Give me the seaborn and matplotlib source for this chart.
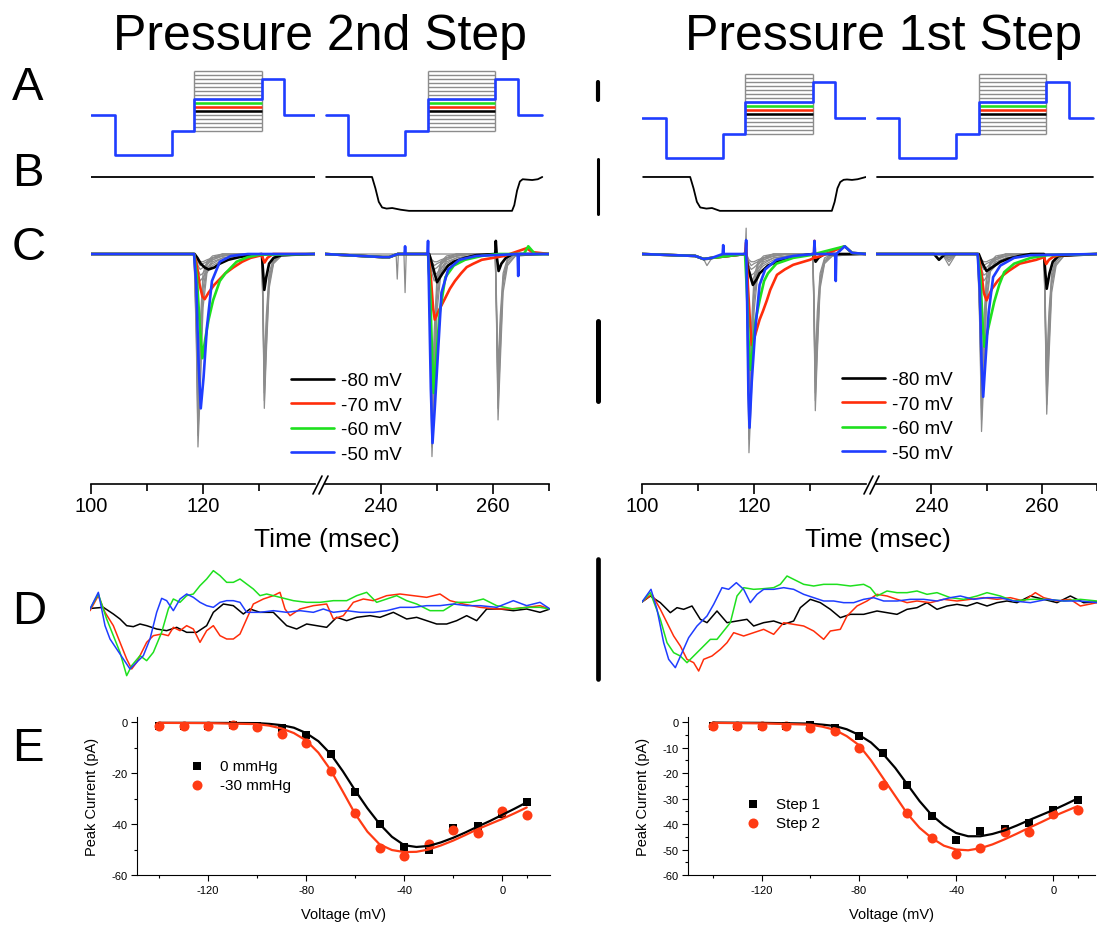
import numpy as np
import pandas as pd
import matplotlib
matplotlib.use("Agg")
import matplotlib.pyplot as plt
import seaborn as sns
from matplotlib.lines import Line2D

sns.set_style("ticks")
plt.rcParams["font.family"] = ["Liberation Sans", "DejaVu Sans"]
plt.rcParams["axes.unicode_minus"] = False
for key in ["text.color", "axes.labelcolor", "axes.edgecolor", "xtick.color", "ytick.color"]:
    plt.rcParams[key] = "black"

W, H = 1097, 928

BLACK = "#000000"
RED = "#ff2d0a"
GREEN = "#1ee01e"
BLUE = "#1f3dff"
GREY = "#8c8c8c"
RED_E = "#ff3b14"

# ---------------- A: voltage protocol (mV) ----------------
prot1_t = [100.0, 104.3, 114.5, 118.4, 130.5, 134.5, 140.0]
prot2_t = [230.2, 234.1, 244.3, 248.4, 260.4, 264.5, 268.8]
prot_v = [-90, -190, -130, -50, 0, -90, -90]
test_levels = [-130, -120, -110, -100, -90, -80, -70, -60, -50, -40, -30, -20, -10, 0, 10, 20]

# ---------------- B: pressure (mmHg) ----------------
flat1_t = [100.0, 140.0]
flat2_t = [230.2, 268.8]
flat_p = [0, 0]
press_left2_t = [230.2, 238.4, 239.0, 239.6, 240.2, 241.0, 242.0, 243.5, 245.0, 255.0, 263.4,
                 263.8, 264.3, 264.8, 265.3, 266.0, 267.0, 268.0, 268.8]
press_left2_p = [0, 0, -10, -22, -27, -28, -27.5, -29, -30, -30, -30, -25, -12, -4, -2, -2.3, -2.7, -2, 0]
press_right1_t = [100.2, 108.6, 109.2, 109.8, 110.4, 111.5, 112.5, 113.9, 125.0, 133.9, 134.4,
                  134.9, 135.4, 136.0, 136.6, 137.5, 138.5, 140.0]
press_right1_p = [0, 0, -10, -22, -27, -28, -27.5, -30, -30, -30, -22, -10, -4.5, -2.5, -2.2, -2.6, -2.0, 0]

# ---------------- C: currents (pA) ----------------
# left panel, first step window
lf_grey_t = [100, 111.0, 114.5, 118.4, 118.8, 119.1, 119.5, 120.0, 120.7, 121.7, 123.5, 126.0,
             130.5, 130.7, 130.95, 131.3, 131.8, 132.6, 134.0, 140]
lf_grey = [
    [0, 0, 0, 0, -22, -50, -36, -14, -5, -2, -1, -0.5, 0, 0, 0, 0, 0, 0, 0, 0],
    [0, 0, 0, 0, -20, -47, -32, -11, -4, -1.5, -0.5, 0, 0, 0, 0, 0, 0, 0, 0, 0],
    [0, 0, 0, 0, -18, -43, -27, -9, -3, -1, -0.5, 0, 0, 0, 0, 0, 0, 0, 0, 0],
    [0, 0, 0, 0, -16, -39, -23, -7, -2.5, -1, 0, 0, 0, 0, 0, 0, 0, 0, 0, 0],
    [0, 0, 0, 0, -13, -33, -18, -5, -2, -0.5, 0, 0, 0, 0, 0, 0, 0, 0, 0, 0],
    [0, 0, 0, 0, -2, -5, -7, -6, -4.5, -3, -1.5, -0.5, 0, -15, -40, -26, -9, -2.5, -0.5, 0],
    [0, 0, 0, 0, -1.5, -4, -5.5, -5, -3.5, -2.5, -1, -0.5, 0, -14, -38, -24, -8, -2, -0.5, 0],
    [0, 0, 0, 0, -1, -3, -4, -3.5, -2.5, -1.5, -0.5, 0, 0, -13, -36, -21, -7, -2, 0, 0],
    [0, 0, 0, 0, -1, -2, -3, -2.5, -2, -1, -0.5, 0, 0, -12, -34, -19, -6, -1.5, 0, 0],
    [0, 0, 0, 0, -0.5, -1.5, -2, -2, -1.5, -1, 0, 0, 0, -10, -30, -16, -5, -1, 0, 0],
]
lf_black_t = [100, 118.5, 119.0, 119.6, 120.3, 121.0, 122.0, 123.0, 124.5, 126.5, 128.5, 130.5, 130.7,
              130.95, 131.3, 131.8, 132.6, 134, 140]
lf_black_v = [0, 0, -1, -2.5, -3.5, -4, -3.5, -2.5, -1.5, -0.8, -0.3, 0, -4, -9.3, -6, -2.5, -1, -0.3, 0]
lf_red_t = [100, 118.4, 118.9, 119.4, 119.9, 120.3, 121.0, 122.0, 123.0, 124.0, 125.4, 127.0, 128.5,
            130.5, 130.8, 131.0, 131.5, 132.5, 140]
lf_red_v = [0, 0, -3, -8, -11, -11.7, -10, -8, -6.5, -5, -3.5, -2, -1, -0.3, -1.5, -2.2, -1, 0, 0]
lf_green_t = [100, 118.4, 118.9, 119.4, 119.9, 120.4, 121.0, 121.8, 123.0, 124.0, 126.0, 128.0, 130.0, 140]
lf_green_v = [0, 0, -6, -18, -27, -22, -17, -12, -7, -5, -2, -0.8, -0.2, 0]
lf_blue_t = [100, 118.4, 118.8, 119.2, 119.6, 120.1, 120.7, 121.6, 123.0, 125.0, 128.0, 140]
lf_blue_v = [0, 0, -8, -28, -40, -32, -19, -7, -2, -0.5, 0, 0]

# left panel, second step window
ls_grey_t = [230, 240.3, 241.5, 243.0, 248.4, 248.8, 249.1, 249.5, 250.0, 250.7, 251.7, 253.5, 256.0,
             260.4, 260.6, 260.9, 261.3, 261.8, 262.6, 264.0, 270]
ls_grey = [
    [0, -0.8, -0.8, 0, 0, -25, -52.5, -38, -15, -5, -2, -1, -0.5, 0, 0, 0, 0, 0, 0, 0, 0],
    [0, -0.8, -0.8, 0, 0, -23, -50, -34, -12, -4, -1.5, -0.5, 0, 0, 0, 0, 0, 0, 0, 0, 0],
    [0, -0.8, -0.8, 0, 0, -20, -46, -29, -10, -3, -1, -0.5, 0, 0, 0, 0, 0, 0, 0, 0, 0],
    [0, -0.8, -0.8, 0, 0, -18, -42, -25, -8, -2.5, -1, 0, 0, 0, 0, 0, 0, 0, 0, 0, 0],
    [0, -0.8, -0.8, 0, 0, -15, -37, -20, -6, -2, -0.5, 0, 0, 0, 0, 0, 0, 0, 0, 0, 0],
    [0, -0.8, -0.8, 0, 0, -2, -5, -7, -6, -4.5, -3, -1.5, -0.5, 0, -15, -43, -28, -10, -3, -0.5, 0],
    [0, -0.8, -0.8, 0, 0, -1.5, -4, -5.5, -5, -3.5, -2.5, -1, -0.5, 0, -14, -40, -25, -8, -2.5, -0.5, 0],
    [0, -0.8, -0.8, 0, 0, -1, -3, -4, -3.5, -2.5, -1.5, -0.5, 0, 0, -13, -37, -22, -7, -2, 0, 0],
    [0, -0.8, -0.8, 0, 0, -1, -2, -3, -2.5, -2, -1, -0.5, 0, 0, -12, -34, -19, -6, -1.5, 0, 0],
    [0, -0.8, -0.8, 0, 0, -0.5, -1.5, -2, -2, -1.5, -1, 0, 0, 0, -10, -30, -16, -5, -1, 0, 0],
]
ls_artifact_t = [230, 242.7, 242.9, 243.1, 244.1, 244.3, 244.5, 270]
ls_artifact_v = [0, 0, -6.5, 0, 0, -10, 0, 0]
ls_black_t = [230, 240.3, 241.5, 243.0, 248.6, 249.2, 250.0, 251.0, 252.0, 253.0, 255.0, 257.0, 260.4,
              260.5, 260.7, 261.0, 261.5, 262.3, 263.5, 270]
ls_black_v = [0, -0.8, -0.8, 0, 0, -3, -7.3, -5, -3, -2, -1, -0.3, 0, 3.4, -1, -4.4, -2.5, -1, 0, 0]
ls_red_t = [230, 240.3, 241.5, 243.0, 248.4, 248.9, 249.3, 249.6, 250.2, 251.4, 252.3, 253.2, 254.3,
            255.3, 256.5, 258.0, 260.0, 262.0, 266.0, 267.0, 270]
ls_red_v = [0, -0.8, -0.8, 0, 0, -6, -14, -17, -15, -11.6, -9, -7, -5, -3.4, -2.5, -1.5, -1, -0.5, 1.5, 0.5, 0]
ls_green_t = [230, 240.3, 241.5, 243.0, 248.4, 248.8, 249.1, 249.4, 249.8, 250.5, 251.5, 253.0, 255.0,
              258.0, 261.0, 265.5, 266.3, 267.5, 270]
ls_green_v = [0, -0.8, -0.8, 0, 0, -10, -25, -36, -28, -15, -6, -3, -1.5, -0.5, 0, 0, 2.0, 0, 0]
ls_blue_t = [230, 240.3, 241.5, 243.0, 244.2, 244.3, 244.4, 248.3, 248.4, 248.6, 248.9, 249.2, 249.6,
             250.0, 250.8, 252.0, 254.0, 257.0, 264.4, 264.5, 264.6, 270]
ls_blue_v = [0, -0.8, -0.8, 0, 0, 2, 0, 0, 3.4, -12, -35, -49, -40, -30, -10, -4, -1.5, -0.5, 0, -5.7, 0, 0]

# right panel, first step window
rf_grey_t = [100, 109.5, 111.0, 111.6, 112.5, 118.4, 118.6, 118.8, 119.1, 119.5, 120.0, 120.7, 121.7,
             123.5, 126.0, 130.5, 130.7, 130.95, 131.3, 131.8, 132.6, 134.0, 140]
rf_grey = [
    [0, -0.5, -1.3, -3, -1, 0, 6.7, -20, -51.5, -38, -15, -5, -2, -1, -0.5, 0, 0, 0, 0, 0, 0, 0, 0],
    [0, -0.5, -1.3, -1.5, -1, 0, 4, -18, -48, -34, -12, -4, -1.5, -0.5, 0, 0, 0, 0, 0, 0, 0, 0, 0],
    [0, -0.5, -1.3, -1.3, -1, 0, 3, -16, -44, -29, -10, -3, -1, -0.5, 0, 0, 0, 0, 0, 0, 0, 0, 0],
    [0, -0.5, -1.3, -1.3, -1, 0, 2, -14, -40, -25, -8, -2.5, -1, 0, 0, 0, 0, 0, 0, 0, 0, 0, 0],
    [0, -0.5, -1.3, -1.3, -1, 0, 1, -12, -35, -20, -6, -2, -0.5, 0, 0, 0, 0, 0, 0, 0, 0, 0, 0],
    [0, -0.5, -1.3, -1.3, -1, 0, 0, -2, -5, -7, -6, -4.5, -3, -1.5, -0.5, 0, -15, -40.6, -26, -9, -2.5, -0.5, 0],
    [0, -0.5, -1.3, -1.3, -1, 0, 0, -1.5, -4, -5.5, -5, -3.5, -2.5, -1, -0.5, 0, -14, -38, -24, -8, -2, -0.5, 0],
    [0, -0.5, -1.3, -1.3, -1, 0, 0, -1, -3, -4, -3.5, -2.5, -1.5, -0.5, 0, 0, -13, -36, -21, -7, -2, 0, 0],
    [0, -0.5, -1.3, -1.3, -1, 0, 0, -1, -2, -3, -2.5, -2, -1, -0.5, 0, 0, -12, -33, -18, -6, -1.5, 0, 0],
    [0, -0.5, -1.3, -1.3, -1, 0, 0, -0.5, -1.5, -2, -2, -1.5, -1, 0, 0, 0, -10, -29, -15, -5, -1, 0, 0],
]
rf_black_t = [100, 109.5, 111.0, 112.5, 118.5, 119.0, 119.8, 120.5, 121.0, 122.5, 125.0, 128.0, 130.5,
              130.8, 131.0, 131.5, 132.5, 140]
rf_black_v = [0, -0.5, -1.3, -1, 0, -4, -8, -6.5, -5, -3, -1.5, -0.5, 0, -1, -2, -1, 0, 0]
rf_red_t = [100, 109.5, 111.0, 112.5, 118.4, 118.6, 118.9, 119.3, 119.6, 120.2, 121.0, 121.6, 122.3,
            122.9, 124.1, 125.5, 127.0, 130.0, 130.7, 130.8, 130.9, 132.0, 136.2, 137.5, 140]
rf_red_v = [0, -0.5, -1.3, -1, 0, 3, -8, -18, -23.6, -21, -17, -14.8, -12, -9.3, -5.4, -4, -2.8, -1.5,
            -1, 3.4, -1, -0.5, 2, 0.3, 0]
rf_green_t = [100, 109.5, 111.0, 112.5, 118.4, 118.8, 119.1, 119.4, 119.8, 120.3, 121.0, 121.8, 122.5,
              124.0, 127.0, 130.0, 136.2, 137.5, 140]
rf_green_v = [0, -0.5, -1.3, -1, 0, -12, -25, -30, -24, -17, -12, -7, -5, -2.5, -1, -0.3, 2, 0.3, 0]
rf_blue_t = [100, 109.5, 111.0, 112.5, 114.4, 114.5, 114.6, 118.5, 118.6, 118.8, 119.0, 119.2, 119.6,
             120.2, 121.0, 122.0, 124.0, 127.0, 130.7, 130.8, 130.9, 134.5, 134.6, 134.7, 136.2, 137.5, 140]
rf_blue_v = [0, -0.5, -1.3, -1, 0, 2.3, 0, 0, 3.6, -15, -36, -45, -33, -20, -8, -4, -1.5, -0.5, 0, 3.4,
             0, 0, -7, 0, 2, 0.3, 0]

# right panel, second step window
rs_grey_t = [230, 242.0, 243.2, 244.5, 248.4, 248.8, 249.1, 249.5, 250.0, 250.7, 251.7, 253.5, 256.0,
             260.4, 260.6, 260.9, 261.3, 261.8, 262.6, 264.0, 270]
rs_grey = [
    [0, 0, -3, 0, 0, -20, -46, -33, -13, -4.5, -2, -1, -0.5, 0, 0, 0, 0, 0, 0, 0, 0],
    [0, 0, -2, 0, 0, -18, -43, -30, -11, -4, -1.5, -0.5, 0, 0, 0, 0, 0, 0, 0, 0, 0],
    [0, 0, -1.5, 0, 0, -16, -40, -26, -9, -3, -1, -0.5, 0, 0, 0, 0, 0, 0, 0, 0, 0],
    [0, 0, -1, 0, 0, -14, -36, -22, -7, -2.5, -1, 0, 0, 0, 0, 0, 0, 0, 0, 0, 0],
    [0, 0, -0.5, 0, 0, -12, -31, -18, -5.5, -2, -0.5, 0, 0, 0, 0, 0, 0, 0, 0, 0, 0],
    [0, 0, -1, 0, 0, -2, -5, -7, -6, -4.5, -3, -1.5, -0.5, 0, -15, -41.5, -27, -10, -3, -0.5, 0],
    [0, 0, -1, 0, 0, -1.5, -4, -5.5, -5, -3.5, -2.5, -1, -0.5, 0, -14, -39, -24, -8, -2.5, -0.5, 0],
    [0, 0, -0.5, 0, 0, -1, -3, -4, -3.5, -2.5, -1.5, -0.5, 0, 0, -13, -36, -21, -7, -2, 0, 0],
    [0, 0, -0.5, 0, 0, -1, -2, -3, -2.5, -2, -1, -0.5, 0, 0, -12, -33, -18, -6, -1.5, 0, 0],
    [0, 0, 0, 0, 0, -0.5, -1.5, -2, -2, -1.5, -1, 0, 0, 0, -10, -29, -15, -5, -1, 0, 0],
]
rs_black_t = [230, 240.5, 241.4, 242.5, 248.6, 249.3, 250.0, 251.0, 252.5, 254.0, 256.0, 258.0, 260.4,
              260.6, 260.9, 261.4, 262.0, 263.0, 270]
rs_black_v = [0, 0, -1.5, 0, 0, -2.5, -4.4, -3.5, -2, -1.2, -0.5, 0, 0, -4, -9, -5, -2, -0.5, 0]
rs_red_t = [230, 248.4, 249.0, 249.5, 250.0, 251.0, 252.0, 253.0, 254.0, 256.0, 259.0, 260.4, 260.8,
            261.3, 262.0, 263.0, 270]
rs_red_v = [0, 0, -4, -10, -12, -9, -7, -5.5, -4.4, -2.5, -1.5, -0.8, -2.6, -1.5, -0.8, -0.3, 0]
rs_green_t = [230, 248.4, 248.9, 249.3, 249.6, 250.2, 251.4, 252.3, 253.2, 255.0, 258.0, 261.0, 270]
rs_green_v = [0, 0, -6, -18, -24, -20, -12.4, -8, -4.7, -2.5, -1, -0.3, 0]
rs_blue_t = [230, 248.4, 248.8, 249.1, 249.4, 249.8, 250.4, 251.2, 252.5, 255.0, 258.0, 270]
rs_blue_v = [0, 0, -10, -28, -37, -28, -15, -6, -3, -1, -0.3, 0]

trace_labels = ["-80 mV", "-70 mV", "-60 mV", "-50 mV"]

# ---------------- D: normalised difference traces (a.u.) ----------------
dl_black_x = [35, 70, 100, 120, 140, 160, 180, 200, 230, 260, 290, 320, 350, 380, 400, 430, 460, 490, 510,
              540, 580, 620, 650, 680, 710, 740, 770, 800, 830, 870, 900, 940, 980, 1010, 1040, 1070, 1100,
              1130, 1160, 1190, 1220, 1260, 1300, 1340, 1380, 1410]
dl_black_v = [2, 5, -15, -30, -50, -53, -45, -50, -60, -65, -55, -70, -70, -50, -10, 15, 10, -15, 0, -10,
              -10, -50, -60, -45, -50, -55, -25, -35, -25, -20, -25, -10, -30, -25, -35, -45, -45, -35,
              -20, -35, 0, 0, -5, 0, -10, 0]
dl_red_x = [30, 55, 75, 100, 120, 140, 155, 170, 185, 200, 220, 245, 265, 280, 300, 320, 340, 360, 380,
            400, 420, 440, 460, 480, 500, 520, 550, 580, 600, 615, 630, 660, 700, 740, 760, 790, 820, 850,
            880, 920, 960, 1000, 1040, 1080, 1110, 1150, 1200, 1250, 1290, 1340, 1380, 1410]
dl_red_v = [-5, 40, -10, -50, -100, -150, -180, -160, -130, -100, -80, -75, -80, -55, -65, -50, -60, -100,
            -65, -50, -80, -90, -90, -75, -30, 15, 30, 40, 50, 0, -20, 0, 10, 15, -30, -20, 20, 30, 25,
            40, 45, 40, 35, 45, 25, 15, 5, 0, 0, 5, 10, 0]
dl_green_x = [30, 55, 80, 100, 120, 140, 155, 180, 200, 220, 245, 265, 280, 300, 320, 340, 360, 380, 400,
              420, 440, 460, 480, 500, 520, 540, 560, 600, 640, 680, 720, 760, 800, 830, 860, 890, 920,
              950, 980, 1010, 1050, 1090, 1130, 1170, 1210, 1250, 1300, 1340, 1380, 1410]
dl_green_v = [0, 45, -30, -80, -130, -200, -170, -140, -155, -130, -70, 0, 30, 20, 40, 45, 70, 90, 115,
              100, 80, 80, 90, 75, 60, 40, 45, 35, 25, 20, 20, 25, 25, 40, 50, 20, 30, 40, 25, 15, -5, -5,
              20, 20, 30, 10, 0, 5, 5, 0]
dl_blue_x = [30, 55, 75, 90, 110, 130, 150, 170, 190, 210, 230, 245, 260, 280, 300, 320, 340, 360, 380,
             400, 420, 440, 460, 480, 500, 540, 580, 620, 660, 700, 730, 760, 800, 840, 880, 920, 960,
             1000, 1040, 1080, 1120, 1160, 1200, 1250, 1300, 1340, 1380, 1410]
dl_blue_v = [0, 50, -50, -90, -120, -150, -180, -160, -140, -90, -10, 32, 25, -5, 30, 45, 35, 20, 10, 5,
             20, 25, 25, 20, -10, -10, -5, -10, -5, -10, 0, -10, -5, -10, -10, -5, 5, 5, 10, 10, 15, 10,
             10, 5, 25, 10, 20, 0]

dr_black_x = [35, 60, 90, 120, 140, 160, 185, 210, 230, 260, 290, 320, 350, 370, 400, 430, 460, 490, 510,
              540, 570, 600, 630, 660, 700, 740, 770, 800, 830, 860, 890, 920, 950, 980, 1010, 1040, 1070,
              1100, 1130, 1160, 1200, 1240, 1280, 1320, 1360, 1400]
dr_black_v = [0, 18, -2, -32, -17, -22, -12, -52, -62, -27, -62, -57, -52, -72, -62, -57, -67, -57, -17,
              8, -2, -22, -47, -37, -37, -27, -32, -37, -22, -17, -2, -22, -12, -7, -12, -2, -12, -2, 3,
              -2, 18, 8, -2, 18, -2, 0]
dr_red_x = [35, 65, 90, 110, 130, 150, 170, 190, 205, 220, 245, 270, 290, 310, 340, 370, 400, 430, 460,
            490, 520, 550, 580, 600, 630, 650, 680, 710, 740, 770, 800, 830, 860, 900, 940, 980, 1020,
            1060, 1100, 1140, 1180, 1215, 1240, 1280, 1320, 1350, 1400]
dr_red_v = [0, 23, -22, -62, -102, -132, -172, -182, -207, -172, -162, -142, -122, -92, -102, -92, -82,
            -97, -62, -67, -72, -87, -112, -87, -82, -42, -12, 3, 23, 18, 8, -2, 3, -2, 8, 3, 8, 13, 8,
            13, 3, 28, 13, 3, 8, -12, -2]
dr_green_x = [35, 60, 90, 110, 130, 150, 170, 190, 210, 240, 260, 280, 300, 320, 340, 370, 400, 430, 450,
              470, 490, 520, 550, 580, 620, 660, 700, 720, 740, 770, 800, 830, 860, 890, 920, 960, 1000,
              1040, 1070, 1110, 1150, 1200, 1250, 1300, 1350, 1400]
dr_green_v = [0, 28, -52, -122, -152, -162, -182, -162, -142, -112, -112, -87, -62, 18, 43, 38, 40, 43,
              53, 78, 68, 53, 48, 53, 53, 48, 53, 43, 18, 33, 28, 28, 33, 23, 28, 13, 8, 18, 28, 18, 3, 8,
              8, 3, 8, 3]
dr_blue_x = [35, 62, 80, 100, 115, 135, 155, 175, 200, 230, 250, 275, 295, 318, 340, 360, 380, 400, 430,
             460, 490, 520, 550, 580, 610, 640, 670, 700, 730, 760, 800, 840, 880, 920, 960, 990, 1030,
             1070, 1110, 1150, 1200, 1250, 1300, 1350, 1400]
dr_blue_v = [0, 38, -22, -122, -172, -197, -152, -107, -72, -42, -7, 43, 38, 58, 38, -2, 23, 38, 38, 43,
             38, 23, 13, 3, 3, -2, -2, 8, 13, 3, 3, 8, 8, 3, 13, 18, 8, 13, 13, 3, -2, 8, 3, 3, -2]

# ---------------- E: I-V relations ----------------
volts = [-140, -130, -120, -110, -100, -90, -80, -70, -60, -50, -40, -30, -20, -10, 0, 10]
peak_0mmhg = [-1.6, -1.7, -1.6, -1.3, -1.6, -2.2, -4.9, -12.5, -27.6, -40.0, -49.2, -50.2, -41.4, -40.7, -36.1, -31.5]
peak_30mmhg = [-1.7, -1.7, -1.6, -1.3, -2.0, -4.6, -8.3, -19.0, -35.7, -49.5, -52.5, -47.9, -42.4, -43.6, -34.8, -36.4]
peak_step1 = [-1.7, -1.7, -1.7, -1.6, -1.3, -2.2, -5.3, -12.2, -24.7, -36.8, -46.4, -42.7, -42.0, -39.4, -34.5, -30.6]
peak_step2 = [-1.7, -1.7, -1.7, -1.7, -2.2, -3.5, -10.2, -24.6, -35.7, -45.6, -51.6, -49.5, -43.1, -43.3, -36.1, -34.4]

fit_v = [-140, -120, -100, -95, -90, -85, -80, -75, -70, -65, -60, -55, -50, -45, -40, -35, -30, -25,
         -20, -15, -10, -5, 0, 5, 10]
fit_0mmhg = [-0.3, -0.3, -0.4, -0.7, -1.2, -2.2, -4.3, -7.5, -12.5, -19.3, -26.8, -33.8, -40.0, -45.0,
             -48.3, -49.0, -48.6, -47.2, -45.4, -43.3, -41.0, -38.8, -36.4, -34.0, -31.5]
fit_30mmhg = [-0.3, -0.4, -0.8, -1.4, -2.5, -4.3, -7.2, -12.0, -18.8, -27.3, -36.0, -43.0, -48.0, -50.2,
              -51.0, -50.9, -50.0, -48.4, -46.5, -44.3, -42.0, -40.0, -38.0, -35.8, -33.5]
fit_step1 = [-0.2, -0.3, -0.6, -1.0, -1.5, -2.8, -5.0, -8.0, -12.5, -18.0, -24.5, -31.0, -36.5, -40.5,
             -43.5, -44.8, -44.8, -43.9, -42.5, -40.6, -38.5, -36.5, -34.5, -32.3, -30.0]
fit_step2 = [-0.3, -0.5, -1.0, -1.8, -3.0, -5.5, -9.0, -15.0, -22.0, -29.0, -36.0, -41.5, -45.5, -48.5,
             -50.0, -50.3, -49.5, -48.0, -46.0, -43.8, -41.5, -39.3, -37.0, -35.0, -33.0]

# ============================================================
fig = plt.figure(figsize=(W / 100, H / 100), dpi=100)
fig.patch.set_facecolor("white")


def add_ax(x0, y0, x1, y1):
    # axes placed by pixel box (left, top, right, bottom)
    ax = fig.add_axes([x0 / W, 1 - y1 / H, (x1 - x0) / W, (y1 - y0) / H])
    ax.patch.set_alpha(0)
    return ax


def trace(ax, x, y, color, lw):
    sns.lineplot(x=x, y=y, color=color, lw=lw, ax=ax, sort=False, estimator=None, legend=False)


def draw_protocol(ax, t, xlim):
    t0, t1 = t[3], t[4]
    ax.hlines(test_levels, t0, t1, color=GREY, lw=1.0)
    ax.vlines([t0, t1], min(test_levels), max(test_levels), color=GREY, lw=1.0)
    for lvl, col in zip([-80, -70, -60], [BLACK, RED, GREEN]):
        ax.hlines(lvl, t0, t1, color=col, lw=1.8)
    ax.step(t, prot_v, where="post", color=BLUE, lw=1.9)
    ax.set_xlim(xlim)
    ax.set_ylim(-212.5, 37.5)
    ax.axis("off")


def draw_pressure(ax, t, p, xlim):
    trace(ax, t, p, BLACK, 1.3)
    ax.set_xlim(xlim)
    ax.set_ylim(-39, 11.5)
    ax.axis("off")


def draw_current(ax, grey_t, grey_rows, colored, xlim, major, minor, extra=None):
    for row in grey_rows:
        trace(ax, grey_t, row, GREY, 0.9)
    if extra is not None:
        trace(ax, extra[0], extra[1], GREY, 0.9)
    for (t, v), col in zip(colored, [BLACK, RED, GREEN, BLUE]):
        trace(ax, t, v, col, 1.9)
    ax.set_xlim(xlim)
    ax.set_ylim(-59.6, 7.0)
    for s in ["top", "left", "right"]:
        ax.spines[s].set_visible(False)
    ax.spines["bottom"].set_linewidth(1.2)
    ax.set_yticks([])
    ax.set_xticks(major)
    ax.set_xticks(minor, minor=True)
    ax.tick_params(axis="x", which="major", length=7, width=1.2, labelsize=14.5, pad=2, direction="out")
    ax.tick_params(axis="x", which="minor", length=5, width=1.2, direction="out")
    ax.set_xlabel("")
    ax.set_ylabel("")


def draw_diff(ax, series, xlim, ylim):
    for (x, v), col in zip(series, [BLACK, RED, GREEN, BLUE]):
        trace(ax, x, v, col, 1.1)
    ax.set_xlim(xlim)
    ax.set_ylim(ylim)
    ax.axis("off")


def draw_iv(ax, fits, peaks, labels, xlim, yminor, ymajor, leg_xy):
    for f, col in zip(fits, [BLACK, RED_E]):
        trace(ax, fit_v, f, col, 1.6)
    sns.scatterplot(x=volts, y=peaks[0], marker="s", s=38, color=BLACK, linewidth=0, ax=ax, label=labels[0])
    sns.scatterplot(x=volts, y=peaks[1], marker="o", s=52, color=RED_E, linewidth=0, ax=ax, label=labels[1])
    ax.set_xlim(xlim)
    ax.set_ylim(-60, 2)
    ax.set_xticks([-120, -80, -40, 0])
    ax.set_xticks([-140, -100, -60, -20, 10], minor=True)
    ax.set_yticks(ymajor)
    ax.set_yticks(yminor, minor=True)
    sns.despine(ax=ax)
    for s in ["left", "bottom"]:
        ax.spines[s].set_linewidth(0.8)
    ax.tick_params(which="major", length=4, width=0.8, labelsize=8, pad=3)
    ax.tick_params(which="minor", length=2.5, width=0.8)
    ax.set_xlabel("Voltage (mV)", fontsize=10.5, labelpad=9)
    ax.set_ylabel("Peak Current (pA)", fontsize=10.5, labelpad=9)
    ax.legend(loc="upper left", bbox_to_anchor=(leg_xy[0] / W, 1 - leg_xy[1] / H),
              bbox_transform=fig.transFigure, frameon=False, fontsize=11, borderpad=0,
              borderaxespad=0, handlelength=1.2, handletextpad=0.9, labelspacing=0.3)


# --------- the two halves ---------
for side, dx, dy in [("left", 0, 0), ("right", 551, 3)]:
    s1, s2 = 91 + dx, 325 + dx
    e1, e2 = s1 + 224, min(s2 + 224, W)
    xl2 = (230, 230 + (e2 - s2) / 5.6)

    draw_protocol(add_ax(s1, 65 + dy, e1, 165 + dy), prot1_t, (100, 140))
    draw_protocol(add_ax(s2, 65 + dy, e2, 165 + dy), prot2_t, xl2)

    if side == "left":
        draw_pressure(add_ax(s1, 165, e1, 222), flat1_t, flat_p, (100, 140))
        draw_pressure(add_ax(s2, 165, e2, 222), press_left2_t, press_left2_p, xl2)
        cf = [(lf_black_t, lf_black_v), (lf_red_t, lf_red_v), (lf_green_t, lf_green_v), (lf_blue_t, lf_blue_v)]
        cs = [(ls_black_t, ls_black_v), (ls_red_t, ls_red_v), (ls_green_t, ls_green_v), (ls_blue_t, ls_blue_v)]
        draw_current(add_ax(s1, 228, e1, 485), lf_grey_t, lf_grey, cf, (100, 140), [100, 120], [110, 130])
        draw_current(add_ax(s2, 228, e2, 485), ls_grey_t, ls_grey, cs, xl2, [240, 260], [250, 270],
                     extra=(ls_artifact_t, ls_artifact_v))
    else:
        draw_pressure(add_ax(s1, 165, e1, 222), press_right1_t, press_right1_p, (100, 140))
        draw_pressure(add_ax(s2, 165, e2, 222), flat2_t, flat_p, xl2)
        cf = [(rf_black_t, rf_black_v), (rf_red_t, rf_red_v), (rf_green_t, rf_green_v), (rf_blue_t, rf_blue_v)]
        cs = [(rs_black_t, rs_black_v), (rs_red_t, rs_red_v), (rs_green_t, rs_green_v), (rs_blue_t, rs_blue_v)]
        draw_current(add_ax(s1, 228, e1, 485), rf_grey_t, rf_grey, cf, (100, 140), [100, 120], [110, 130])
        draw_current(add_ax(s2, 228, e2, 485), rs_grey_t, rs_grey, cs, xl2, [240, 260], [250, 270])

    # axis break marks
    bx = e1 - 2
    for off in (0, 6):
        fig.add_artist(Line2D([(bx + off) / W, (bx + off + 9) / W], [1 - 495 / H, 1 - 477 / H],
                              color=BLACK, lw=1.2))
    fig.text((e1 + 12) / W, 1 - 540 / H, "Time (msec)", ha="center", va="center", fontsize=19)

    handles = [Line2D([], [], color=c, lw=1.9) for c in [BLACK, RED, GREEN, BLUE]]
    fig.legend(handles, trace_labels, loc="upper left",
               bbox_to_anchor=((291 + dx) / W, 1 - (373 - (1 if dx else 0)) / H),
               frameon=False, fontsize=13.5, handlelength=2.3, handletextpad=0.35,
               labelspacing=0.4, borderpad=0, borderaxespad=0)

# D panels
draw_diff(add_ax(90, 570, 550, 690),
          [(dl_black_x, dl_black_v), (dl_red_x, dl_red_v), (dl_green_x, dl_green_v), (dl_blue_x, dl_blue_v)],
          (30, 1410), (-240, 120))
draw_diff(add_ax(642, 570, 1097, 690),
          [(dr_black_x, dr_black_v), (dr_red_x, dr_red_v), (dr_green_x, dr_green_v), (dr_blue_x, dr_blue_v)],
          (35, 1400), (-261, 99))

# E panels
draw_iv(add_ax(137, 718, 550, 876), [fit_0mmhg, fit_30mmhg], [peak_0mmhg, peak_30mmhg],
        ["0 mmHg", "-30 mmHg"], (-149, 19.5), [-10, -30, -50], [0, -20, -40, -60], (188, 760))
draw_iv(add_ax(688, 718, 1095, 876), [fit_step1, fit_step2], [peak_step1, peak_step2],
        ["Step 1", "Step 2"], (-150.3, 17.2), [-5, -15, -25, -35, -45, -55],
        [0, -10, -20, -30, -40, -50, -60], (744, 798))

# scale bars between the halves
for (y0, y1, lw) in [(83, 101, 3.0), (160, 215, 2.2), (322, 402, 3.6), (560, 680, 3.4)]:
    fig.add_artist(Line2D([598 / W, 598 / W], [1 - y0 / H, 1 - y1 / H], color=BLACK, lw=lw,
                          solid_capstyle="round"))

# titles and panel letters
fig.text(320 / W, 1 - 50 / H, "Pressure 2nd Step", ha="center", va="baseline", fontsize=36)
fig.text(884 / W, 1 - 50 / H, "Pressure 1st Step", ha="center", va="baseline", fontsize=36)
for letter, yb in [("A", 100), ("B", 186), ("C", 260), ("D", 624), ("E", 761)]:
    fig.text(12 / W, 1 - yb / H, letter, ha="left", va="baseline", fontsize=34)

fig.savefig("out.png", dpi=100, facecolor="white")
